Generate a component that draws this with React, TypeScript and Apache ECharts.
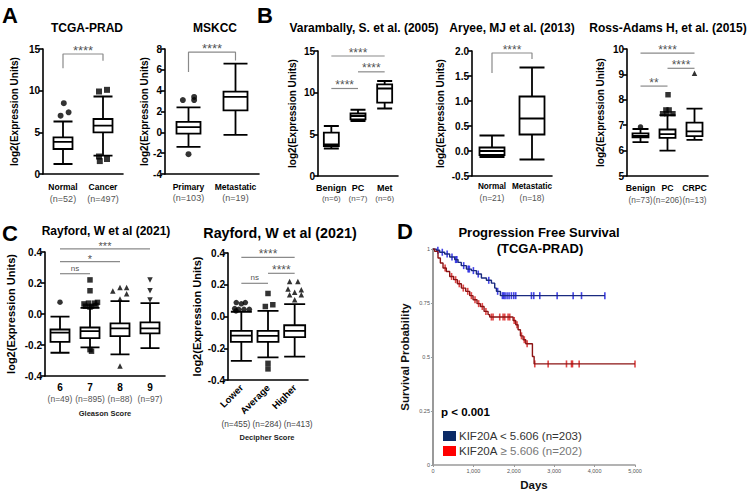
import React, { useEffect, useRef } from 'react';
import * as echarts from 'echarts';

const FONT = '"Liberation Sans", Arial, Helvetica, sans-serif';

// ---------------- Panel A : TCGA-PRAD ----------------
const tcgaCats = ['Normal', 'Cancer'];
const tcgaN = ['(n=52)', '(n=497)'];
const tcgaBox = [[1.2, 3.0, 3.85, 4.4, 6.3], [2.2, 5.0, 5.8, 6.6, 9.3]];
const tcgaOutNormal = [[0.02, 8.5], [-0.06, 7.0], [0.14, 7.4]];
const tcgaOutCancer = [[0.9, 9.9], [1.1, 10.1], [0.9, 2.1], [0.92, 1.55], [1.1, 1.8]];
const tcgaSig = [{ x1: 0, x2: 1, y: 14.4, l1: 12.7, l2: 13.6, text: '****' }];

// ---------------- Panel A : MSKCC ----------------
const mskCats = ['Primary', 'Metastatic'];
const mskN = ['(n=103)', '(n=19)'];
const mskBox = [[-1.4, -0.13, 0.5, 1.0, 2.4], [-0.25, 2.1, 3.4, 3.9, 6.6]];
const mskOutPrimary = [[-0.12, 3.1], [0.12, 3.4], [0.12, 3.1], [0, -2.1]];
const mskSig = [{ x1: 0, x2: 1, y: 7.7, l1: 5.8, l2: 6.9, text: '****' }];

// ---------------- Panel B : Varambally ----------------
const varCats = ['Benign', 'PC', 'Met'];
const varN = ['(n=6)', '(n=7)', '(n=6)'];
const varBox = [[3.3, 3.6, 3.8, 5.2, 6.0], [6.6, 6.8, 7.2, 7.5, 7.95], [8.1, 8.8, 10.5, 11.0, 11.4]];
const varSig = [
  { x1: 0, x2: 2, y: 14.4, l1: 14.4, l2: 14.4, text: '****' },
  { x1: 1, x2: 2, y: 12.5, l1: 12.5, l2: 12.5, text: '****' },
  { x1: 0, x2: 1, y: 10.5, l1: 10.5, l2: 10.5, text: '****' },
];

// ---------------- Panel B : Aryee ----------------
const aryCats = ['Normal', 'Metastatic'];
const aryN = ['(n=21)', '(n=18)'];
const aryBox = [[-0.12, -0.08, 0.0, 0.07, 0.31], [-0.17, 0.33, 0.65, 1.09, 1.67]];
const arySig = [{ x1: 0, x2: 1, y: 1.96, l1: 1.56, l2: 1.84, text: '****' }];

// ---------------- Panel B : Ross-Adams ----------------
const rossCats = ['Benign', 'PC', 'CRPC'];
const rossN = ['(n=73)', '(n=206)', '(n=13)'];
const rossBox = [[6.33, 6.52, 6.58, 6.68, 6.85], [6.0, 6.5, 6.65, 6.83, 7.4], [6.42, 6.57, 6.76, 7.1, 7.65]];
const rossOutBenign = [[0, 6.93]];
const rossOutPC = [[1.02, 8.2], [0.94, 7.6], [1.06, 7.6], [0.82, 7.45], [0.98, 7.45], [1.2, 7.45]];
const rossOutCRPC = [[2, 9.05]];
const rossSig = [
  { x1: 0, x2: 2, y: 9.84, l1: 9.84, l2: 9.84, text: '****' },
  { x1: 1, x2: 2, y: 9.24, l1: 9.24, l2: 9.24, text: '****' },
  { x1: 0, x2: 1, y: 8.54, l1: 8.54, l2: 8.54, text: '**' },
];

// ---------------- Panel C : Gleason ----------------
const gleCats = ['6', '7', '8', '9'];
const gleN = ['(n=49)', '(n=895)', '(n=88)', '(n=97)'];
const gleBox = [
  [-0.25, -0.18, -0.12, -0.10, -0.017],
  [-0.215, -0.155, -0.11, -0.087, 0.04],
  [-0.26, -0.143, -0.093, -0.06, 0.083],
  [-0.22, -0.125, -0.093, -0.054, 0.07],
];
const gleOut6 = [[0, 0.076]];
const gleOut7 = [[1, 0.22], [1, 0.15], [0.8, 0.065], [0.95, 0.07], [1.15, 0.07], [1.25, 0.075], [0.85, 0.05], [1.05, 0.05], [1.2, 0.055], [1, 0.045], [1, -0.23], [1.05, -0.24]];
const gleOut8 = [[1.76, 0.149], [2, 0.171], [2.22, 0.171], [2.22, 0.13], [2, 0.097], [2, -0.335]];
const gleOut9 = [[3, 0.22], [3, 0.15], [3, 0.09]];
const gleSig = [
  { x1: 0, x2: 3, y: 0.42, l1: 0.42, l2: 0.42, text: '***' },
  { x1: 0, x2: 2, y: 0.338, l1: 0.338, l2: 0.338, text: '*' },
  { x1: 0, x2: 1, y: 0.26, l1: 0.26, l2: 0.26, text: 'ns' },
];

// ---------------- Panel C : Decipher ----------------
const decCats = ['Lower', 'Average', 'Higher'];
const decN = ['(n=455)', '(n=284)', '(n=413)'];
const decBox = [
  [-0.28, -0.16, -0.12, -0.09, 0.03],
  [-0.257, -0.16, -0.122, -0.09, 0.035],
  [-0.253, -0.13, -0.09, -0.055, 0.078],
];
const decOutLower = [[-0.19, 0.088], [0.15, 0.088], [0, 0.08], [-0.25, 0.05], [-0.1, 0.045], [0.1, 0.045], [0.3, 0.045], [-0.2, 0.035]];
const decOutAverage = [[1, 0.145], [0.9, 0.063], [1.18, 0.074], [1, -0.295], [1, -0.33]];
const decOutHigher = [[1.81, 0.221], [2.12, 0.221], [1.75, 0.173], [2.25, 0.168], [2, 0.152], [1.81, 0.137], [2.25, 0.137], [2, 0.105]];
const decSig = [
  { x1: 0, x2: 2, y: 0.373, l1: 0.373, l2: 0.373, text: '****' },
  { x1: 1, x2: 2, y: 0.272, l1: 0.272, l2: 0.272, text: '****' },
  { x1: 0, x2: 1, y: 0.209, l1: 0.209, l2: 0.209, text: 'ns' },
];

// ---------------- Panel D : Kaplan-Meier ----------------
const lowName = 'KIF20A < 5.606 (n=203)';
const highName = 'KIF20A ≥ 5.606 (n=202)';
const lowSteps = [[0, 1], [83, 0.994], [165, 0.985], [290, 0.977], [413, 0.963], [537, 0.951], [620, 0.938], [700, 0.923], [826, 0.907], [950, 0.9], [1074, 0.884], [1198, 0.866], [1322, 0.855], [1446, 0.842], [1528, 0.819], [1570, 0.804], [1668, 0.784], [4254, 0.784]];
const lowCensor = [[120, 0.994], [230, 0.985], [350, 0.977], [470, 0.963], [560, 0.951], [590, 0.951], [760, 0.923], [870, 0.907], [900, 0.907], [1000, 0.9], [1120, 0.884], [1380, 0.855], [1600, 0.804], [1718, 0.784], [1751, 0.784], [1784, 0.784], [1834, 0.784], [1883, 0.784], [1941, 0.784], [1999, 0.784], [2048, 0.784], [2437, 0.784], [2494, 0.784], [2643, 0.784], [3073, 0.784], [3469, 0.784], [3676, 0.784], [4254, 0.784]];
const highSteps = [[0, 1], [41, 0.989], [124, 0.958], [182, 0.935], [248, 0.912], [330, 0.896], [413, 0.873], [512, 0.858], [603, 0.839], [702, 0.819], [810, 0.804], [909, 0.784], [991, 0.765], [1090, 0.747], [1173, 0.734], [1264, 0.711], [1363, 0.696], [1404, 0.685], [1982, 0.669], [2048, 0.649], [2106, 0.626], [2164, 0.598], [2230, 0.58], [2296, 0.561], [2461, 0.502], [2503, 0.468], [5000, 0.468]];
const highCensor = [[300, 0.912], [460, 0.873], [560, 0.858], [650, 0.839], [750, 0.819], [860, 0.804], [950, 0.784], [1040, 0.765], [1130, 0.747], [1220, 0.734], [1310, 0.711], [1446, 0.685], [1487, 0.685], [1652, 0.685], [1735, 0.685], [1776, 0.685], [1859, 0.685], [1900, 0.685], [2010, 0.669], [2080, 0.649], [2190, 0.598], [2260, 0.58], [2330, 0.561], [2519, 0.468], [2850, 0.468], [3304, 0.468], [3428, 0.468], [3453, 0.468], [3618, 0.468], [5000, 0.468]];

type Sig = { x1: number; x2: number; y: number; l1: number; l2: number; text: string };
type Out = { data: number[][]; symbol: string; rotate?: number };
type PanelCfg = {
  grid: number[];
  cats: string[];
  nLabels: string[];
  boxes: number[][];
  outliers: Out[];
  sig: Sig[];
  yMin: number; yMax: number; yInt: number; yDec: number;
  boxW: number;
  yNameGap: number; yNameSize: number;
  catSize: number; nSize: number; lineH: number; margin: number;
  symSize: number;
  sigSize: number;
  xName?: string; xNameGap?: number;
  rotated?: boolean;
};

function buildOption() {
  const grid: any[] = [];
  const xAxis: any[] = [];
  const yAxis: any[] = [];
  const series: any[] = [];

  const addPanel = (p: PanelCfg) => {
    const gi = grid.length;
    grid.push({ left: p.grid[0], top: p.grid[1], width: p.grid[2], height: p.grid[3] });
    const catIdx = xAxis.length;
    const catAxis: any = {
      type: 'category', gridIndex: gi, data: p.cats, boundaryGap: true,
      axisLine: { onZero: false, lineStyle: { color: '#000', width: 1.6 } },
      axisTick: { alignWithLabel: true, length: 4, lineStyle: { color: '#000', width: 1.6 } },
    };
    if (p.rotated) {
      catAxis.axisLabel = { interval: 0, rotate: 45, margin: 6, fontFamily: FONT, fontWeight: 'bold', fontSize: p.catSize, color: '#000' };
    } else {
      catAxis.axisLabel = {
        interval: 0, margin: p.margin,
        formatter: (v: string, i: number) => `{a|${v}}\n{b|${p.nLabels[i]}}`,
        rich: {
          a: { fontFamily: FONT, fontWeight: 'bold', fontSize: p.catSize, color: '#000', lineHeight: p.lineH },
          b: { fontFamily: FONT, fontSize: p.nSize, color: '#555', lineHeight: p.lineH },
        },
      };
    }
    if (p.xName && !p.rotated) {
      catAxis.name = p.xName;
      catAxis.nameLocation = 'middle';
      catAxis.nameGap = p.xNameGap;
      catAxis.nameTextStyle = { fontFamily: FONT, fontWeight: 'bold', fontSize: 7.5, color: '#222' };
    }
    xAxis.push(catAxis);
    const valIdx = xAxis.length;
    xAxis.push({ type: 'value', gridIndex: gi, min: -0.5, max: p.cats.length - 0.5, show: false });
    const yIdx = yAxis.length;
    yAxis.push({
      type: 'value', gridIndex: gi, min: p.yMin, max: p.yMax, interval: p.yInt,
      axisLine: { show: true, onZero: false, lineStyle: { color: '#000', width: 1.6 } },
      axisTick: { show: true, length: 4, lineStyle: { color: '#000', width: 1.6 } },
      splitLine: { show: false },
      axisLabel: {
        margin: 3, fontFamily: FONT, fontWeight: 'bold', fontSize: 10, color: '#000',
        formatter: (v: number) => v.toFixed(p.yDec),
      },
      name: 'log2(Expression Units)', nameLocation: 'middle', nameGap: p.yNameGap,
      nameTextStyle: { fontFamily: FONT, fontWeight: 'bold', fontSize: p.yNameSize, color: '#000' },
    });
    series.push({
      type: 'boxplot', xAxisIndex: catIdx, yAxisIndex: yIdx, data: p.boxes,
      boxWidth: [p.boxW, p.boxW],
      itemStyle: { color: '#fff', borderColor: '#000', borderWidth: 1.8 },
    });
    p.outliers.forEach((o) => {
      series.push({
        type: 'scatter', xAxisIndex: valIdx, yAxisIndex: yIdx, data: o.data,
        symbol: o.symbol, symbolRotate: o.rotate || 0, symbolSize: p.symSize,
        itemStyle: { color: '#000' }, clip: false,
      });
    });
    p.sig.forEach((s) => {
      series.push({
        type: 'line', xAxisIndex: valIdx, yAxisIndex: yIdx,
        data: [[s.x1, s.l1], [s.x1, s.y], [s.x2, s.y], [s.x2, s.l2]],
        symbol: 'none', clip: false,
        lineStyle: { color: '#8a8a8a', width: 1.2 },
      });
      const isStar = s.text.indexOf('*') >= 0;
      series.push({
        type: 'scatter', xAxisIndex: valIdx, yAxisIndex: yIdx,
        data: [[(s.x1 + s.x2) / 2, s.y]], symbolSize: 1, clip: false,
        itemStyle: { color: 'rgba(0,0,0,0)' },
        label: {
          show: true, position: 'top', distance: isStar ? -3 : 1,
          formatter: () => s.text,
          fontFamily: FONT, fontSize: isStar ? p.sigSize : 8, color: '#222',
        },
      });
    });
  };

  addPanel({
    grid: [43, 49, 80, 125], cats: tcgaCats, nLabels: tcgaN, boxes: tcgaBox,
    outliers: [{ data: tcgaOutNormal, symbol: 'circle' }, { data: tcgaOutCancer, symbol: 'rect' }],
    sig: tcgaSig, yMin: 0, yMax: 15, yInt: 5, yDec: 0, boxW: 19,
    yNameGap: 24, yNameSize: 10, catSize: 8.5, nSize: 9, lineH: 12, margin: 7, symSize: 6, sigSize: 13,
  });
  addPanel({
    grid: [165, 49, 94, 125], cats: mskCats, nLabels: mskN, boxes: mskBox,
    outliers: [{ data: mskOutPrimary, symbol: 'circle' }],
    sig: mskSig, yMin: -4, yMax: 8, yInt: 2, yDec: 0, boxW: 24,
    yNameGap: 14, yNameSize: 10, catSize: 8.5, nSize: 9, lineH: 11, margin: 7, symSize: 6, sigSize: 13,
  });
  addPanel({
    grid: [318, 51, 80, 125], cats: varCats, nLabels: varN, boxes: varBox,
    outliers: [],
    sig: varSig, yMin: 0, yMax: 15, yInt: 5, yDec: 0, boxW: 15,
    yNameGap: 21, yNameSize: 10, catSize: 9, nSize: 8, lineH: 10, margin: 7, symSize: 5.5, sigSize: 12,
  });
  addPanel({
    grid: [472, 51, 80, 125], cats: aryCats, nLabels: aryN, boxes: aryBox,
    outliers: [],
    sig: arySig, yMin: -0.5, yMax: 2, yInt: 0.5, yDec: 1, boxW: 25,
    yNameGap: 27, yNameSize: 10, catSize: 8.2, nSize: 8.5, lineH: 11, margin: 5, symSize: 5.5, sigSize: 12,
  });
  addPanel({
    grid: [627, 49, 81, 127], cats: rossCats, nLabels: rossN, boxes: rossBox,
    outliers: [{ data: rossOutBenign, symbol: 'circle' }, { data: rossOutPC, symbol: 'rect' }, { data: rossOutCRPC, symbol: 'triangle' }],
    sig: rossSig, yMin: 5, yMax: 10, yInt: 1, yDec: 0, boxW: 16,
    yNameGap: 22, yNameSize: 10, catSize: 8.7, nSize: 8.3, lineH: 12, margin: 6, symSize: 5.5, sigSize: 12,
  });
  addPanel({
    grid: [45, 252, 120, 124], cats: gleCats, nLabels: gleN, boxes: gleBox,
    outliers: [
      { data: gleOut6, symbol: 'circle' }, { data: gleOut7, symbol: 'rect' },
      { data: gleOut8, symbol: 'triangle' }, { data: gleOut9, symbol: 'triangle', rotate: 180 },
    ],
    sig: gleSig, yMin: -0.4, yMax: 0.4, yInt: 0.2, yDec: 1, boxW: 19,
    yNameGap: 29, yNameSize: 11, catSize: 10, nSize: 8.5, lineH: 11, margin: 6, symSize: 5.5, sigSize: 11,
    xName: 'Gleason Score', xNameGap: 33,
  });
  addPanel({
    grid: [228, 253, 80, 127], cats: decCats, nLabels: decN, boxes: decBox,
    outliers: [{ data: decOutLower, symbol: 'circle' }, { data: decOutAverage, symbol: 'rect' }, { data: decOutHigher, symbol: 'triangle' }],
    sig: decSig, yMin: -0.4, yMax: 0.4, yInt: 0.2, yDec: 1, boxW: 21,
    yNameGap: 26, yNameSize: 11, catSize: 9.5, nSize: 8.5, lineH: 11, margin: 6, symSize: 5.5, sigSize: 12,
    rotated: true,
  });

  // Panel D
  const gd = grid.length;
  grid.push({ left: 433, top: 249, width: 202, height: 216 });
  const xd = xAxis.length;
  xAxis.push({
    type: 'value', gridIndex: gd, min: 0, max: 5000, interval: 1000,
    axisLine: { onZero: false, lineStyle: { color: '#9a9a9a', width: 1.5 } },
    axisTick: { show: true, length: 2, lineStyle: { color: '#9a9a9a' } },
    splitLine: { show: false },
    axisLabel: { margin: 3, fontFamily: FONT, fontSize: 5.5, color: '#555' },
    name: 'Days', nameLocation: 'middle', nameGap: 14,
    nameTextStyle: { fontFamily: FONT, fontWeight: 'bold', fontSize: 11.5, color: '#111' },
  });
  const yd = yAxis.length;
  yAxis.push({
    type: 'value', gridIndex: gd, min: 0, max: 1, interval: 0.25,
    axisLine: { show: true, onZero: false, lineStyle: { color: '#9a9a9a', width: 2 } },
    axisTick: { show: true, length: 2, lineStyle: { color: '#9a9a9a' } },
    splitLine: { show: false },
    axisLabel: { margin: 3, fontFamily: FONT, fontSize: 5.5, color: '#555' },
    name: 'Survival Probability', nameLocation: 'middle', nameGap: 22,
    nameTextStyle: { fontFamily: FONT, fontWeight: 'bold', fontSize: 11.5, color: '#111' },
  });
  series.push({
    name: lowName, type: 'line', step: 'end', xAxisIndex: xd, yAxisIndex: yd, data: lowSteps,
    showSymbol: false, symbol: 'none', color: '#1a2a80', lineStyle: { color: '#1a2a80', width: 1.4 },
  });
  series.push({
    name: highName, type: 'line', step: 'end', xAxisIndex: xd, yAxisIndex: yd, data: highSteps,
    showSymbol: false, symbol: 'none', color: '#8c1414', lineStyle: { color: '#8c1414', width: 1.4 },
  });
  series.push({
    name: 'low-censor', type: 'scatter', xAxisIndex: xd, yAxisIndex: yd, data: lowCensor,
    symbol: 'rect', symbolSize: [1.6, 7], itemStyle: { color: '#1414e0' }, clip: false,
  });
  series.push({
    name: 'high-censor', type: 'scatter', xAxisIndex: xd, yAxisIndex: yd, data: highCensor,
    symbol: 'rect', symbolSize: [1.6, 7], itemStyle: { color: '#d81818' }, clip: false,
  });

  const t = (text: string, x: number, y: number, size: number, weight = 'bold', align = 'center', fill = '#000') => ({
    type: 'text', x, y, silent: true,
    style: { text, fontFamily: FONT, fontSize: size, fontWeight: weight, fill, align, textAlign: align, verticalAlign: 'middle', textVerticalAlign: 'middle' },
  });

  const graphic = [
    t('A', 2, 15, 22, 'bold', 'left'),
    t('B', 257, 15, 22, 'bold', 'left'),
    t('C', 2, 233, 22, 'bold', 'left'),
    t('D', 397, 231, 22, 'bold', 'left'),
    t('TCGA-PRAD', 87, 28, 12),
    t('MSKCC', 215, 28, 12),
    t('Varambally, S. et al. (2005)', 364, 28, 12),
    t('Aryee, MJ et al. (2013)', 512, 28, 12),
    t('Ross-Adams H, et al. (2015)', 668, 28, 12),
    t('Rayford, W et al (2021)', 106, 231, 12),
    t('Rayford, W et al (2021)', 280, 233, 14.3),
    t(decN.join(' '), 267, 424, 8.3, 'normal', 'center', '#444'),
    t('Decipher Score', 267, 437, 7.5, 'bold', 'center', '#222'),
    t('Progression Free Survival', 539, 232, 13),
    t('(TCGA-PRAD)', 540, 248, 13),
    t('p < 0.001', 441, 412, 11.5, 'bold', 'left'),
  ];

  return {
    animation: false,
    backgroundColor: '#fff',
    textStyle: { fontFamily: FONT },
    grid, xAxis, yAxis, series, graphic,
    legend: {
      data: [
        { name: lowName, itemStyle: { color: '#0b2a66' } },
        { name: highName, itemStyle: { color: '#ff0000' } },
      ],
      orient: 'vertical', left: 438, top: 425, icon: 'rect',
      itemWidth: 13, itemHeight: 10, itemGap: 3,
      formatter: (name: string) => name === highName ? '{a|KIF20A} {b|≥ 5.606 (n=202)}' : '{a|KIF20A < 5.606 (n=203)}',
      textStyle: {
        fontFamily: FONT, fontSize: 11.5, color: '#333', padding: [0, 0, 0, -2],
        rich: {
          a: { fontFamily: FONT, fontSize: 11.5, color: '#333' },
          b: { fontFamily: FONT, fontSize: 11.5, color: '#777' },
        },
      },
    },
  };
}

export default function App() {
  const ref = useRef<HTMLDivElement>(null);
  useEffect(() => {
    document.body.style.margin = '0';
    const chart = echarts.init(ref.current!, null, { renderer: 'svg' });
    chart.setOption(buildOption() as any);
    return () => chart.dispose();
  }, []);
  return <div ref={ref} style={{ width: 750, height: 496 }} />;
}
